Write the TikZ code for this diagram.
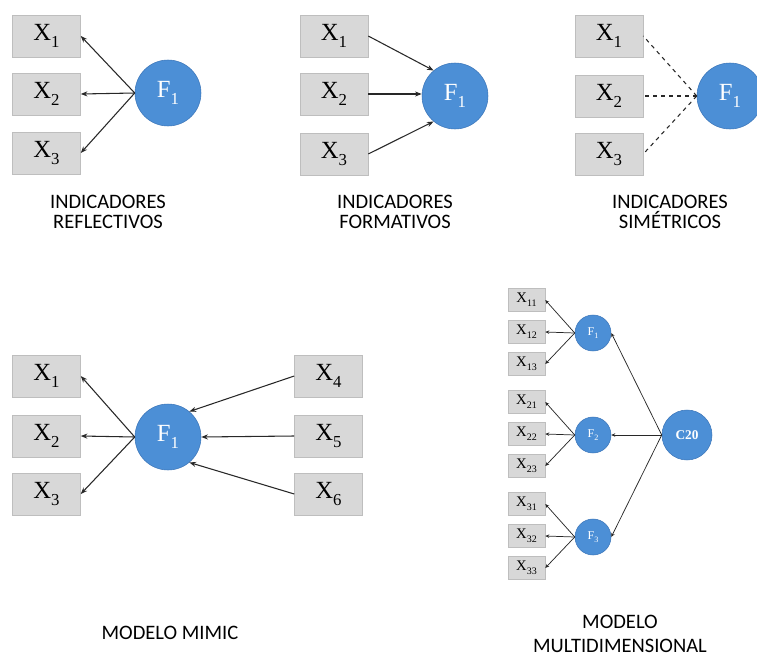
\documentclass[tikz,border=0pt]{standalone}
\usepackage{fontspec}
\setmainfont{Liberation Serif}
\newfontfamily\capfont{Carlito}
\usetikzlibrary{arrows.meta}

\definecolor{boxgray}{RGB}{216,216,216}
\definecolor{boxedge}{RGB}{190,190,190}
\definecolor{ballblue}{RGB}{76,143,214}
\definecolor{balledge}{RGB}{60,118,185}
\definecolor{linecol}{RGB}{40,40,40}

% letter with a low subscript, sized relative to the current font
\newcommand{\lowsub}[2]{#1\raisebox{-0.28em}{\scalebox{0.68}{#2}}}
\newcommand{\ind}[1]{\lowsub{X}{#1}}

\begin{document}
\begin{tikzpicture}[x=0.75pt,y=-0.75pt,
  ibox/.style={draw=boxedge, fill=boxgray, minimum width=51pt, minimum height=31.5pt,
    inner sep=0pt, font=\fontsize{18.5}{18.5}\selectfont},
  sbox/.style={draw=boxedge, fill=boxgray, minimum width=27.75pt, minimum height=17.25pt,
    inner sep=0pt, font=\fontsize{11}{11}\selectfont},
  ball/.style={circle, draw=balledge, fill=ballblue, text=white, minimum size=49.5pt,
    inner sep=0pt, font=\fontsize{18.5}{18.5}\selectfont},
  sball/.style={circle, draw=balledge, fill=ballblue, text=white, minimum size=27pt,
    inner sep=0pt, font=\fontsize{9}{9}\selectfont},
  cball/.style={circle, draw=balledge, fill=ballblue, text=white, minimum size=37.5pt,
    inner sep=0pt, font=\fontsize{10}{10}\selectfont\bfseries},
  arr/.style={draw=linecol, line width=0.8pt, -{Stealth[length=5pt,width=3.8pt]}},
  sarr/.style={draw=linecol, line width=0.55pt, -{Stealth[length=3pt,width=2.6pt]}},
  dashline/.style={draw=linecol, line width=0.8pt, dashed},
  caption/.style={align=center, font=\capfont\fontsize{15.4}{15.4}\selectfont},
  caption2/.style={align=center, font=\capfont\fontsize{15.4}{18}\selectfont}
]
\useasboundingbox (0,0) rectangle (757,657);

% --- reflective indicators
\node[ibox] (ra) at (46.5,36) {\ind{1}};
\node[ibox] (rb) at (46.5,94) {\ind{2}};
\node[ibox] (rc) at (46.5,153) {\ind{3}};
\node[ball] (rf) at (168,93) {\lowsub{F}{1}};
\foreach \t in {ra,rb,rc} \draw[arr] (rf.west) -- (\t.east);
\node[caption] (rcap) at (108,212) {INDICADORES\\[0pt]REFLECTIVOS};

% --- formative indicators
\node[ibox] (fa) at (334,36) {\ind{1}};
\node[ibox] (fb) at (334,94) {\ind{2}};
\node[ibox] (fc) at (334,154) {\ind{3}};
\node[ball] (ff) at (455,96) {\lowsub{F}{1}};
\draw[arr] (fa.east) -- (ff.130);
\draw[arr] (fb.east) -- (ff.west |- fb.east);
\draw[arr] (fc.east) -- (ff.230);
\node[caption] (fcap) at (395,212) {INDICADORES\\[0pt]FORMATIVOS};

% --- symmetric indicators
\node[ibox] (sa) at (609,36) {\ind{1}};
\node[ibox] (sb) at (609,96) {\ind{2}};
\node[ibox] (sc) at (609,154) {\ind{3}};
\node[ball] (sf) at (730,96) {\lowsub{F}{1}};
\foreach \t in {sa,sb,sc} \draw[dashline] (sf.west) -- (\t.east);
\node[caption] (scap) at (670,212) {INDICADORES\\[0pt]SIMÉTRICOS};

% --- MIMIC model
\node[ibox] (ma) at (46.5,376) {\ind{1}};
\node[ibox] (mb) at (46.5,436) {\ind{2}};
\node[ibox] (mc) at (46.5,494) {\ind{3}};
\node[ball] (mf) at (168,437) {\lowsub{F}{1}};
\node[ibox] (md) at (328.5,376) {\ind{4}};
\node[ibox] (me) at (328.5,436) {\ind{5}};
\node[ibox] (mg) at (328.5,494) {\ind{6}};
\foreach \t in {ma,mb,mc} \draw[arr] (mf.west) -- (\t.east);
\draw[arr] (md.west) -- (mf.50);
\draw[arr] (me.west) -- (mf.east);
\draw[arr] (mg.west) -- (mf.-50);
\node[caption] (mcap) at (170,633) {MODELO MIMIC};

% --- multidimensional model
\node[sbox] (x11) at (526.5,300) {\ind{11}};
\node[sbox] (x12) at (526.5,332) {\ind{12}};
\node[sbox] (x13) at (526.5,364) {\ind{13}};
\node[sbox] (x21) at (526.5,402) {\ind{21}};
\node[sbox] (x22) at (526.5,434) {\ind{22}};
\node[sbox] (x23) at (526.5,466) {\ind{23}};
\node[sbox] (x31) at (526.5,504) {\ind{31}};
\node[sbox] (x32) at (526.5,536) {\ind{32}};
\node[sbox] (x33) at (526.5,568) {\ind{33}};
\node[sball] (f1) at (593,333) {\lowsub{F}{1}};
\node[sball] (f2) at (593,435) {\lowsub{F}{2}};
\node[sball] (f3) at (593,537) {\lowsub{F}{3}};
\node[cball] (c20) at (687,435) {C20};
\foreach \t in {x11,x12,x13} \draw[sarr] (f1.west) -- (\t.east);
\foreach \t in {x21,x22,x23} \draw[sarr] (f2.west) -- (\t.east);
\foreach \t in {x31,x32,x33} \draw[sarr] (f3.west) -- (\t.east);
\foreach \t in {f1,f2,f3} \draw[sarr] (c20.west) -- (\t.east);
\node[caption2] (dcap) at (620,634) {MODELO\\MULTIDIMENSIONAL};
\end{tikzpicture}
\end{document}
